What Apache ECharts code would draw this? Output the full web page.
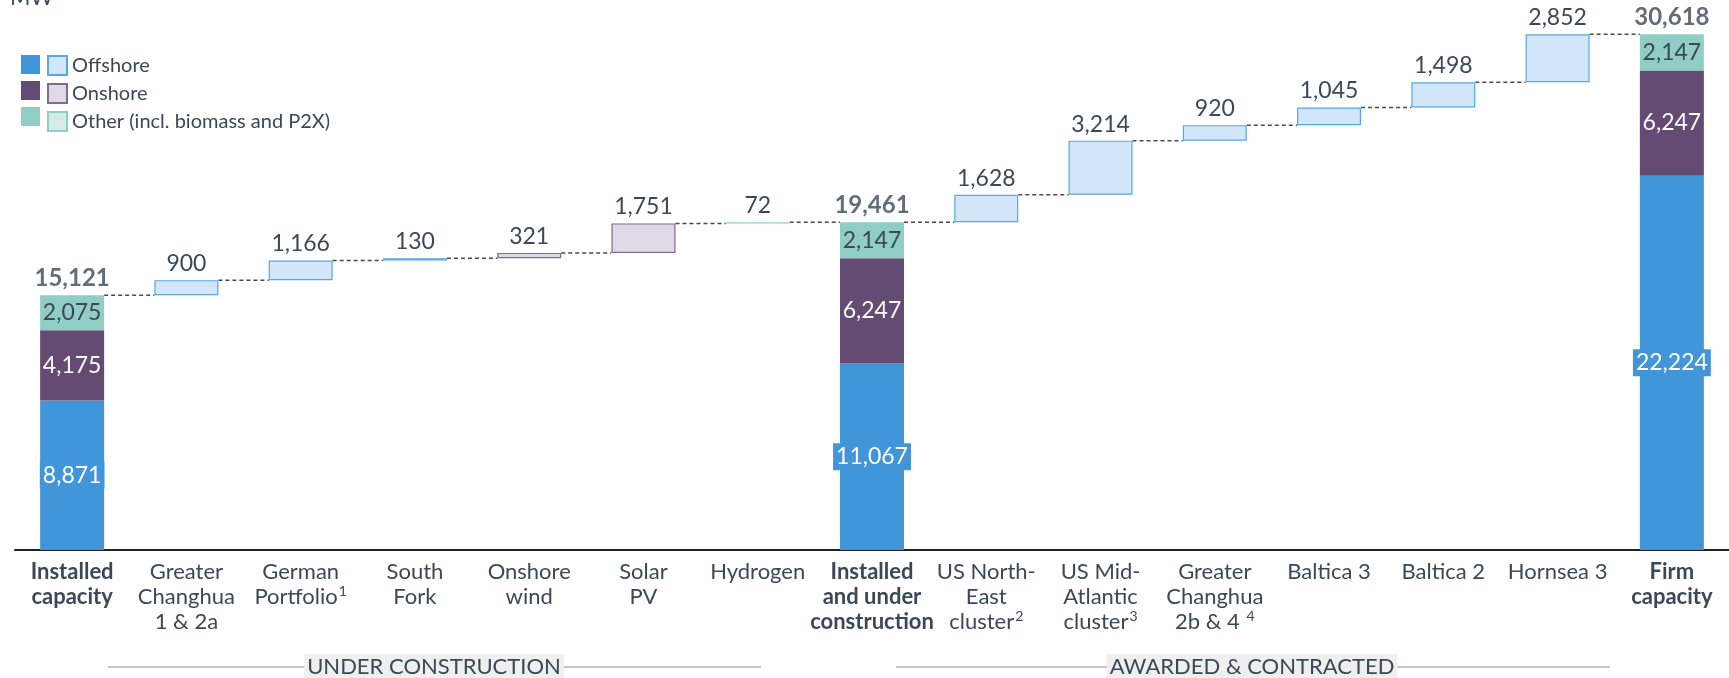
<!DOCTYPE html>
<html>
<head>
<meta charset="utf-8">
<title>Capacity build-out (MW)</title>
<script src="https://cdn.jsdelivr.net/npm/echarts@6/dist/echarts.min.js"></script>
<style>
  html, body { margin: 0; padding: 0; background: #fff; }
  #chart { width: 1729px; height: 678px; }
</style>
</head>
<body>
<div id="chart"></div>
<script>
// x axis categories
const categories = [
  "Installed\ncapacity",
  "Greater\nChanghua\n1 & 2a",
  "German\nPortfolio¹",
  "South\nFork",
  "Onshore\nwind",
  "Solar\nPV",
  "Hydrogen",
  "Installed\nand under\nconstruction",
  "US North-\nEast\ncluster²",
  "US Mid-\nAtlantic\ncluster³",
  "Greater\nChanghua\n2b & 4 ⁴",
  "Baltica 3",
  "Baltica 2",
  "Hornsea 3",
  "Firm\ncapacity"
];
const boldIndex = [0, 7, 14];

// stacked total bars, MW
const offshoreTotal = [8871, "-", "-", "-", "-", "-", "-", 11067, "-", "-", "-", "-", "-", "-", 22224];
const onshoreTotal  = [4175, "-", "-", "-", "-", "-", "-", 6247,  "-", "-", "-", "-", "-", "-", 6247];
const otherTotal    = [2075, "-", "-", "-", "-", "-", "-", 2147,  "-", "-", "-", "-", "-", "-", 2147];

// additions, MW
const offshoreAdd = ["-", 900, 1166, 130, "-", "-", "-", "-", 1628, 3214, 920, 1045, 1498, 2852, "-"];
const onshoreAdd  = ["-", "-", "-", "-", 321, 1751, "-", "-", "-", "-", "-", "-", "-", "-", "-"];
const otherAdd    = ["-", "-", "-", "-", "-", "-", 72, "-", "-", "-", "-", "-", "-", "-", "-"];

const num = v => (v === "-" ? 0 : v);

// invisible base for the floating bars + running level for the connectors
let level = 0;
const base = [], tops = [], totals = [];
categories.forEach((c, i) => {
  if (offshoreTotal[i] !== "-") {
    level = num(offshoreTotal[i]) + num(onshoreTotal[i]) + num(otherTotal[i]);
    base.push("-");
    totals.push(level);
  } else {
    base.push(level);
    level += num(offshoreAdd[i]) + num(onshoreAdd[i]) + num(otherAdd[i]);
    totals.push("-");
  }
  tops.push(level);
});
const connectors = tops.slice(0, -1).map((v, i) => [i, v]);

const FONT = 'Lato, "Noto Sans", sans-serif';
const TEXT = "#3b4858";
const BAR_RATIO = 0.56;
const C = {
  off: "#4196d9", offLight: "#d2e6f9", offLine: "#58a6e3",
  on: "#634b73", onLight: "#e0d9e6", onLine: "#806b93",
  oth: "#8fcdc5", othLight: "#d3ece8", othLine: "#90cec6"
};
const fmt = v => Number(v).toLocaleString("en-US");
const SUP = { "¹": "1", "²": "2", "³": "3", "⁴": "4" };

function solid(name, data, color, labelColor, extraLabel) {
  return {
    name: name, type: "bar", stack: "a", data: data,
    barWidth: (BAR_RATIO * 100) + "%",
    itemStyle: { color: color },
    label: Object.assign({
      show: true, position: "inside", color: labelColor,
      fontFamily: FONT, fontSize: 23, formatter: p => fmt(p.value)
    }, extraLabel || {})
  };
}

function light(name, data, fill, line) {
  return {
    name: name, type: "bar", stack: "a", data: data,
    itemStyle: { color: fill, borderColor: line, borderWidth: 1.2 },
    label: {
      show: true, position: "top", distance: 5, color: TEXT,
      fontFamily: FONT, fontSize: 23, formatter: p => fmt(p.value)
    }
  };
}

const chart = echarts.init(document.getElementById("chart"));

chart.setOption({
  animation: false,
  grid: { left: 15, right: -5, top: 11, bottom: 128 },
  xAxis: {
    type: "category",
    data: categories,
    axisLine: { lineStyle: { color: "#222", width: 2 } },
    axisTick: { show: false },
    axisLabel: {
      interval: 0, margin: 9, color: TEXT, fontFamily: FONT, fontSize: 22, lineHeight: 25,
      formatter: (v, i) => {
        const style = boldIndex.indexOf(i) >= 0 ? "b" : "r";
        return v.split("\n").map(line =>
          line.replace(/([^¹²³⁴]+)|([¹²³⁴])/g, (m, txt, sup) =>
            txt ? "{" + style + "|" + txt + "}" : "{s|" + SUP[sup] + "}")
        ).join("\n");
      },
      rich: {
        r: { fontFamily: FONT, fontSize: 22, lineHeight: 25, color: TEXT },
        b: { fontWeight: "bold", fontFamily: FONT, fontSize: 22, lineHeight: 25, color: TEXT },
        s: { fontFamily: FONT, fontSize: 14, lineHeight: 14, color: TEXT, verticalAlign: "top", padding: [0, 0, 0, 1] }
      }
    }
  },
  yAxis: { type: "value", min: 0, max: 32000, show: false, splitLine: { show: false } },
  legend: [
    {
      data: ["Offshore total", "Onshore total", "Other total"],
      orient: "vertical", left: 21, top: 55, padding: 0,
      itemWidth: 19, itemHeight: 19, itemGap: 7, icon: "rect",
      selectedMode: false, formatter: () => ""
    },
    {
      data: ["Offshore", "Onshore", "Other (incl. biomass and P2X)"],
      orient: "vertical", left: 47, top: 55, padding: 0,
      itemWidth: 19, itemHeight: 19, itemGap: 7, icon: "rect",
      selectedMode: false,
      textStyle: { color: TEXT, fontFamily: FONT, fontSize: 20 }
    }
  ],
  graphic: [
    { type: "text", x: 10, y: 9, style: { text: "MW", fill: TEXT, font: "22px " + FONT, verticalAlign: "bottom" } },
    // section brackets under the axis
    { type: "line", shape: { x1: 108, y1: 667, x2: 761, y2: 667 }, style: { stroke: "#8a8a8a", lineWidth: 1 } },
    {
      type: "text", x: 434, y: 667, z: 10,
      style: {
        text: "UNDER CONSTRUCTION", fill: TEXT, font: "22px " + FONT,
        align: "center", verticalAlign: "middle",
        backgroundColor: "#efefef", padding: [2, 3]
      }
    },
    { type: "line", shape: { x1: 896, y1: 667, x2: 1610, y2: 667 }, style: { stroke: "#8a8a8a", lineWidth: 1 } },
    {
      type: "text", x: 1252, y: 667, z: 10,
      style: {
        text: "AWARDED & CONTRACTED", fill: TEXT, font: "22px " + FONT,
        align: "center", verticalAlign: "middle",
        backgroundColor: "#efefef", padding: [2, 3]
      }
    }
  ],
  series: [
    {
      name: "base", type: "bar", stack: "a", data: base, silent: true,
      itemStyle: { color: "transparent" }
    },
    solid("Offshore total", offshoreTotal, C.off, "#fff", { backgroundColor: C.off, padding: [2, 3] }),
    solid("Onshore total", onshoreTotal, C.on, "#fff"),
    solid("Other total", otherTotal, C.oth, TEXT),
    light("Offshore", offshoreAdd, C.offLight, C.offLine),
    light("Onshore", onshoreAdd, C.onLight, C.onLine),
    light("Other (incl. biomass and P2X)", otherAdd, C.othLight, C.othLine),
    {
      // bold totals above the stacked bars
      name: "totals", type: "scatter", data: totals, symbolSize: 0, silent: true,
      label: {
        show: true, position: "top", distance: 5, color: TEXT,
        fontFamily: FONT, fontSize: 24, fontWeight: "bold",
        formatter: p => fmt(p.value)
      }
    },
    {
      // dashed steps between bars
      name: "steps", type: "custom", data: connectors, silent: true, z: 1,
      renderItem: (params, api) => {
        const i = api.value(0), v = api.value(1);
        const a = api.coord([i, v]), b = api.coord([i + 1, v]);
        const half = api.size([1, 0])[0] * BAR_RATIO / 2;
        return {
          type: "line",
          shape: { x1: a[0] + half, y1: a[1], x2: b[0] - half, y2: b[1] },
          style: { stroke: "#4a4a4a", lineWidth: 1.5, lineDash: [4, 3] }
        };
      }
    }
  ]
});
</script>
</body>
</html>
